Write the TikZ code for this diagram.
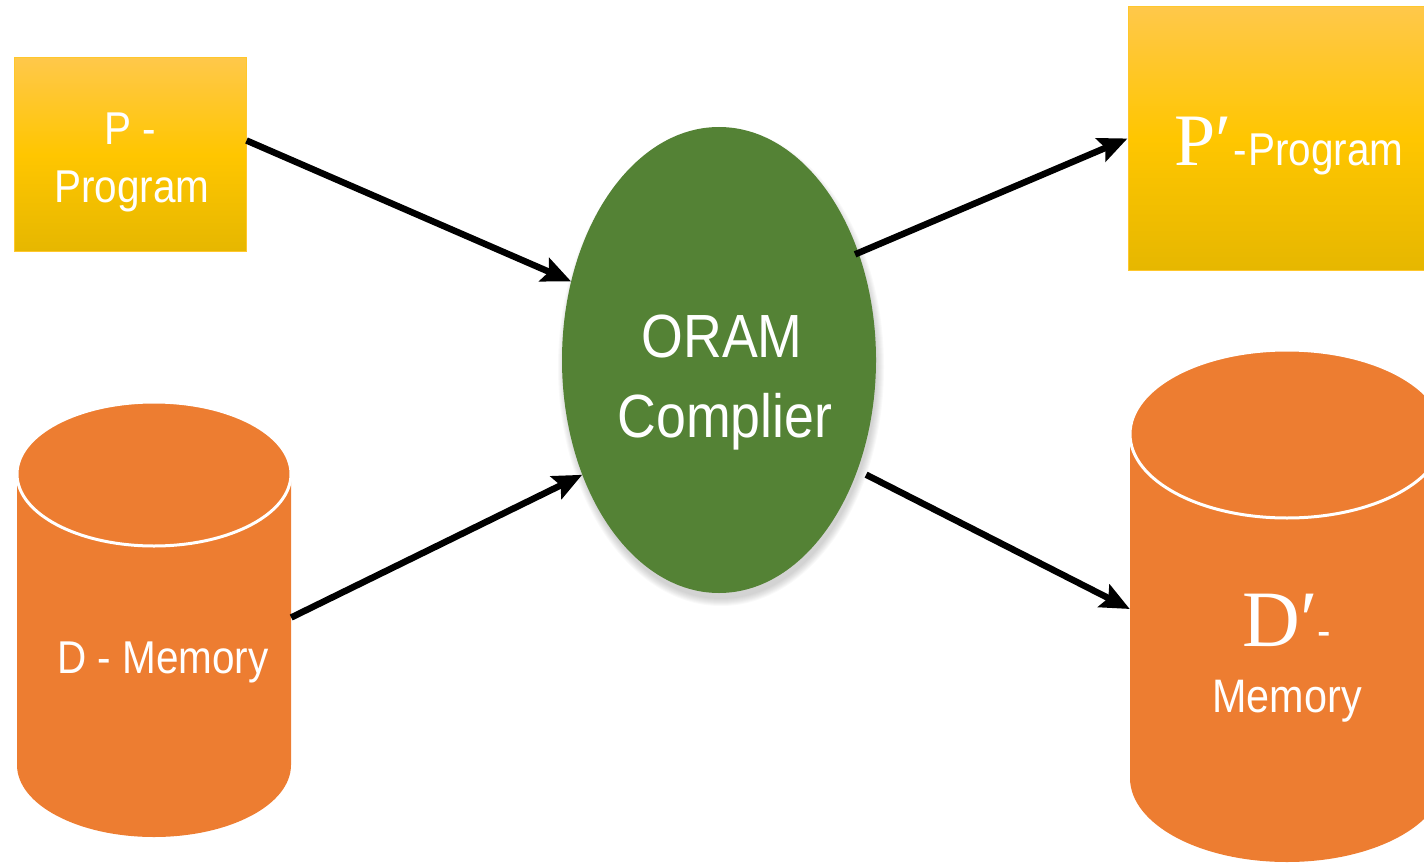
\documentclass[tikz,border=0pt]{standalone}
\usepackage{fontspec}
\usetikzlibrary{shapes.geometric,arrows.meta}

\newfontfamily\lsans[FakeStretch=0.88]{Liberation Sans}
\newfontfamily\lserif{Liberation Serif}

\definecolor{goldline}{HTML}{FFC72C}
\definecolor{goldtop}{HTML}{FFC84A}
\definecolor{goldmid}{HTML}{FFC600}
\definecolor{goldbot}{HTML}{E6B700}
\definecolor{drum}{HTML}{ED7D31}
\definecolor{leaf}{HTML}{548235}

\begin{document}
\begin{tikzpicture}[x=1pt,y=-1pt,
  goldbox/.style={rectangle, inner sep=0pt, draw=goldline, line width=1pt,
    shading=axis, top color=goldtop, bottom color=goldbot, middle color=goldmid},
  hull/.style={rectangle, inner sep=0pt},
  caption/.style={text=white, inner sep=0pt, anchor=base},
  flow/.style={line width=6.5pt, draw=black,
    -{Stealth[length=29pt,width=25pt,inset=5pt]}},
]
\path[use as bounding box] (0,0) rectangle (1424,864);
\clip (0,0) rectangle (1424,864);

% soft shadow under the compiler
\foreach \k in {1,...,8}
  \fill[black, opacity=0.022] (721,367) ellipse[x radius={155+\k}, y radius={231+\k}];

% compiler
\node[ellipse, fill=leaf, inner sep=0pt, minimum width=314pt, minimum height=466pt]
  (oram) at (719,360) {};

% program boxes
\node[goldbox, minimum width=232pt, minimum height=193pt] (P) at (130,154.5) {};
\node[goldbox, minimum width=312pt, minimum height=263pt] (Pp) at (1284,138.5) {};

% input memory drum
\node[hull, minimum width=274pt, minimum height=435pt] (D) at (154,619.5) {};
\fill[drum] (17,474) -- (17,765) arc[start angle=180, end angle=0, x radius=137, y radius=72]
  -- (291,474) -- cycle;
\filldraw[fill=drum, draw=white, line width=3pt] (154,474) ellipse[x radius=137, y radius=72];

% output memory drum
\node[hull, minimum width=314pt, minimum height=516pt] (Dp) at (1287,608) {};
\fill[drum] (1130,434) -- (1130,778) arc[start angle=180, end angle=0, x radius=157, y radius=84]
  -- (1444,434) -- cycle;
\filldraw[fill=drum, draw=white, line width=3pt] (1287,434) ellipse[x radius=157, y radius=84];

% connectors
\draw[flow] ([yshift=14pt]P.east) -- (oram.152.7);
\draw[flow] ([yshift=2pt]D.east) -- (oram.220.9);
\draw[flow] ([shift={(-3,3)}]oram.38.9) -- (Pp.west);
\draw[flow] ([shift={(8,6)}]oram.-38.7) -- ([yshift=-1pt]Dp.west);

% labels
\node[caption, font=\lsans\fontsize{46}{46}\selectfont] (pt1) at (130,145) {P -};
\node[caption, font=\lsans\fontsize{46}{46}\selectfont] (pt2) at (132,202) {Program};
\node[caption, font=\lsans\fontsize{46}{46}\selectfont] (dt) at (163,673) {D - Memory};
\node[caption, font=\lsans\fontsize{61}{61}\selectfont] (ot1) at (722,357) {ORAM};
\node[caption, font=\lsans\fontsize{61}{61}\selectfont] (ot2) at (725,437) {Complier};
\node[caption] (ppt) at (1289,165)
  {{\lserif\fontsize{74}{74}\selectfont P′}\kern2pt{\lsans\fontsize{46}{46}\selectfont -\kern1pt Program}};
\node[caption] (dpt1) at (1287,646)
  {{\lserif\fontsize{80}{80}\selectfont D′}{\lsans\fontsize{46}{46}\selectfont -}};
\node[caption, font=\lsans\fontsize{47}{47}\selectfont] (dpt2) at (1287,712) {Memory};
\end{tikzpicture}
\end{document}
